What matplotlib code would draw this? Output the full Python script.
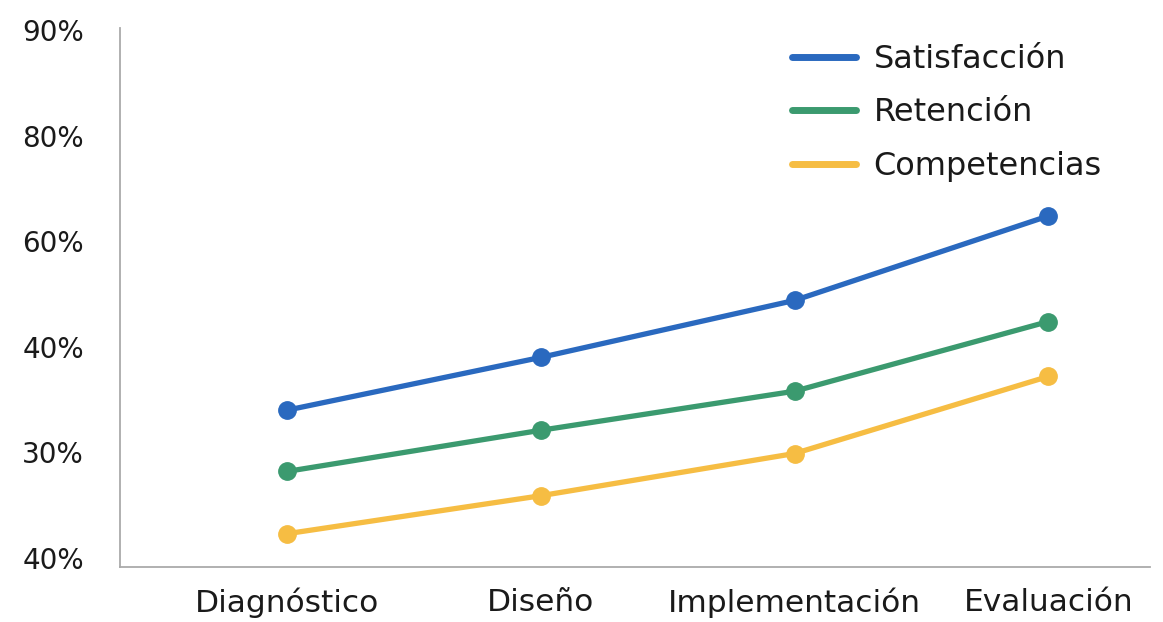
import matplotlib
matplotlib.use("Agg")
import matplotlib.pyplot as plt

# Data (in axis position units; y tick labels are printed as shown in the reference)
categories = ["Diagnóstico", "Diseño", "Implementación", "Evaluación"]
satisfaccion = [1.40, 1.90, 2.44, 3.24]
retencion = [0.82, 1.21, 1.58, 2.24]
competencias = [0.23, 0.59, 0.99, 1.72]
ytick_pos = [0, 1, 2, 3, 4, 5]
ytick_labels = ["40%", "30%", "40%", "60%", "80%", "90%"]
series_names = ["Satisfacción", "Retención", "Competencias"]
colors = ["#2a69bf", "#3b9a6f", "#f6bd43"]

plt.rcParams['font.family'] = ['DejaVu Sans']

fig = plt.figure(figsize=(11.63, 6.22), dpi=100)
ax = fig.add_axes([0.1032, 0.0884, 0.8856, 0.8666])

x = list(range(len(categories)))
for vals, name, c in zip([satisfaccion, retencion, competencias], series_names, colors):
    ax.plot(x, vals, color=c, lw=3.8, marker='o', markersize=12.5,
            solid_capstyle='round', label=name)

ax.set_xlim(-0.657, 3.40)
ax.set_ylim(-0.085, 5.02)
ax.set_yticks(ytick_pos)
ax.set_yticklabels(ytick_labels, fontsize=20, color='#1a1a1a')
ax.set_xticks(x)
ax.set_xticklabels(categories, fontsize=22.5, color='#1a1a1a')
ax.tick_params(axis='y', length=0, pad=26)
ax.tick_params(axis='x', length=0, pad=15)

for s in ['top', 'right']:
    ax.spines[s].set_visible(False)
for s in ['left', 'bottom']:
    ax.spines[s].set_color('#aaaaaa')
    ax.spines[s].set_linewidth(1.3)

leg = ax.legend(loc='upper left', bbox_to_anchor=(792 / 1163, 1 - 44 / 622),
                bbox_transform=fig.transFigure, frameon=False, borderpad=0, borderaxespad=0,
                fontsize=23, handlelength=2.0, handletextpad=0.55, labelspacing=0.70)
for h in leg.get_lines():
    h.set_marker('')
    h.set_linewidth(5)
for t in leg.get_texts():
    t.set_color('#1a1a1a')

fig.savefig("out.png", dpi=100)
